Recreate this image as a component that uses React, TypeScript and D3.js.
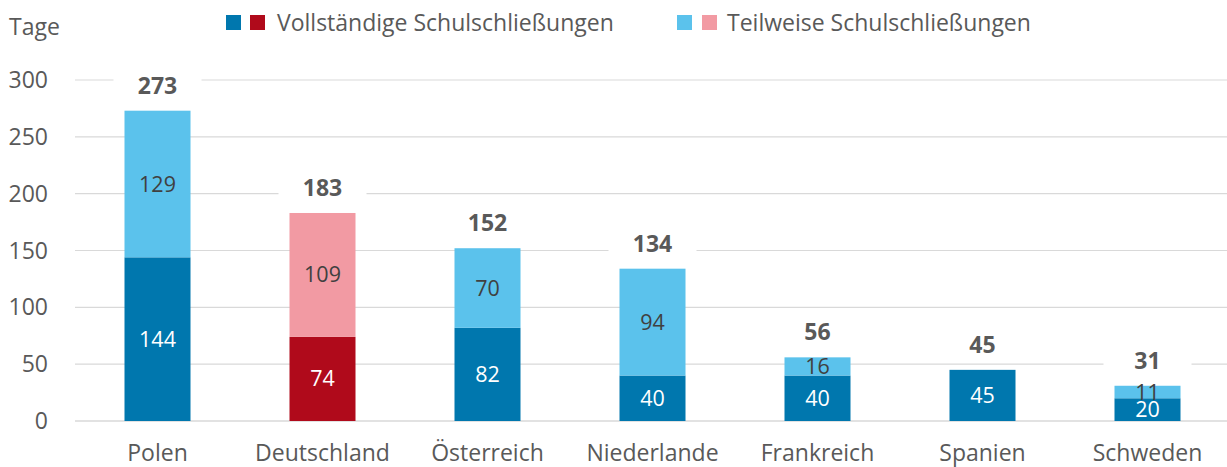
import React from "react";
import * as d3 from "d3";

const categories = ["Polen", "Deutschland", "Österreich", "Niederlande", "Frankreich", "Spanien", "Schweden"];
const fullValues = [144, 74, 82, 40, 40, 45, 20];
const partialValues = [129, 109, 70, 94, 16, 0, 11];
const totals = [273, 183, 152, 134, 56, 45, 31];
const yTicks = [0, 50, 100, 150, 200, 250, 300];
const highlightCategory = "Deutschland";
const legendLabels = ["Vollständige Schulschließungen", "Teilweise Schulschließungen"];

const W = 1227;
const H = 467;
const FONT = "'Open Sans', 'DejaVu Sans', sans-serif";
const TEXT = "#595959";
const DARK_BLUE = "#0077AE";
const LIGHT_BLUE = "#5BC2EC";
const DARK_RED = "#B00A1B";
const PINK = "#F29AA3";
const FS = 23;

export default function App() {
  const x = d3.scaleBand<string>().domain(categories).range([75, 1230]).paddingInner(0.6).paddingOuter(0.3);
  const y = d3.scaleLinear().domain([0, 300]).range([421, 80]);
  const bw = x.bandwidth();

  return (
    <svg width={W} height={H} style={{ position: "absolute", left: 0, top: 0, background: "#fff" }} fontFamily={FONT}>
      {yTicks.map((t) => (
        <line key={t} x1={75} x2={W} y1={y(t)} y2={y(t)} stroke="#D9D9D9" strokeWidth={t === 0 ? 1.5 : 1.2} />
      ))}
      {yTicks.map((t) => (
        <text key={"l" + t} x={48} y={y(t) + 8} textAnchor="end" fontSize={FS} fill={TEXT}>
          {t}
        </text>
      ))}
      <text x={9} y={35} fontSize={FS} fill={TEXT}>Tage</text>

      <rect x={226} y={15} width={15} height={15} fill={DARK_BLUE} />
      <rect x={250} y={15} width={15} height={15} fill={DARK_RED} />
      <text x={277} y={31} fontSize={FS} fill={TEXT}>{legendLabels[0]}</text>
      <rect x={677} y={15} width={15} height={15} fill={LIGHT_BLUE} />
      <rect x={702} y={15} width={15} height={15} fill={PINK} />
      <text x={727} y={31} fontSize={FS} fill={TEXT}>{legendLabels[1]}</text>

      {categories.map((c, i) => {
        const x0 = x(c) as number;
        const cx = x0 + bw / 2;
        const hl = c === highlightCategory;
        const f = fullValues[i];
        const p = partialValues[i];
        const tot = totals[i];
        return (
          <g key={c}>
            <rect x={x0} y={y(f)} width={bw} height={y(0) - y(f)} fill={hl ? DARK_RED : DARK_BLUE} />
            {p > 0 && (
              <rect x={x0} y={y(f + p)} width={bw} height={y(f) - y(f + p)} fill={hl ? PINK : LIGHT_BLUE} />
            )}
            <text x={cx} y={(y(0) + y(f)) / 2} dy="0.35em" textAnchor="middle" fontSize={21.5} fill="#fff">
              {f}
            </text>
            {p > 0 && (
              <text x={cx} y={(y(f) + y(f + p)) / 2} dy="0.35em" textAnchor="middle" fontSize={21.5} fill="#404040">
                {p}
              </text>
            )}
            <rect x={cx - 44} y={y(tot) - 38} width={88} height={30} fill="#fff" />
            <text x={cx} y={y(tot) - 17} textAnchor="middle" fontSize={FS} fontWeight="bold" fill={TEXT}>
              {tot}
            </text>
            <text x={cx} y={461} textAnchor="middle" fontSize={FS} fill={TEXT}>
              {c}
            </text>
          </g>
        );
      })}
    </svg>
  );
}
